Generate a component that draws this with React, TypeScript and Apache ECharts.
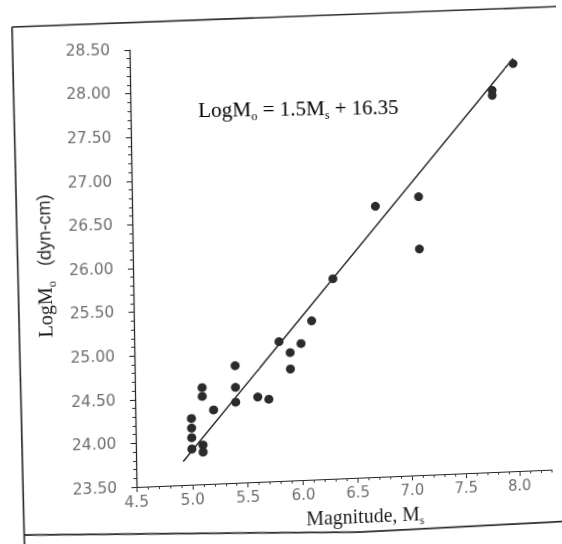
import { useEffect, useRef } from "react";
import * as echarts from "echarts";

// ---- Data (surface-wave magnitude Ms vs log seismic moment) ----
const magnitudes = [
  5.0, 5.0, 5.0, 5.0, 5.1, 5.1, 5.1, 5.1, 5.2, 5.4, 5.4, 5.4, 5.6, 5.7, 5.8,
  5.9, 5.9, 6.0, 6.1, 6.3, 6.7, 7.1, 7.1, 7.8, 7.8, 8.0,
];
const logMoments = [
  24.26, 24.15, 24.04, 23.91, 24.61, 24.51, 23.95, 23.87, 24.35, 24.85, 24.6,
  24.43, 24.48, 24.45, 25.11, 24.98, 24.79, 25.08, 25.34, 25.82, 26.65, 26.75,
  26.14, 27.98, 27.92, 28.29,
];
// Regression line LogMo = 1.5 Ms + 16.35, end points as drawn
const fitM = [4.92, 8.0];
const fitLogM = [23.77, 28.35];

// ---- Axes ----
const xMin = 4.5;
const xMax = 8.3;
const xMajorStep = 0.5;
const xMinorStep = 0.1;
const yMin = 23.5;
const yMax = 28.5;
const yStep = 0.5;

const xTitle = "{a|Magnitude, M}{s|s}";
const yTitle = "{a|LogM}{s|o}{b|   (dyn-cm)}";
const equation = "{a|LogM}{s|o}{a| = 1.5M}{s|s}{a| + 16.35}";

// ---- Layout of the plot (chart pixels, before the scan warp) ----
const GL = 133;
const GT = 48;
const PX_PER_X = 109.7;
const PX_PER_Y = 87.2;
const GW = (xMax - xMin) * PX_PER_X;
const GH = (yMax - yMin) * PX_PER_Y;

// The reference is a slightly warped scan: map plot corners to where they sit on the page.
const warpSrc = [
  [GL, GT],
  [GL, GT + GH],
  [GL + 3.5 * PX_PER_X, GT + GH],
  [GL + 3.5 * PX_PER_X, GT + 0.15 * PX_PER_Y],
];
const warpDst = [
  [129.5, 50],
  [136.5, 487],
  [519.5, 471],
  [513, 58.5],
];

function solveHomography(src: number[][], dst: number[][]) {
  const A: number[][] = [];
  const b: number[] = [];
  for (let i = 0; i < 4; i++) {
    const [x, y] = src[i];
    const [X, Y] = dst[i];
    A.push([x, y, 1, 0, 0, 0, -x * X, -y * X]);
    b.push(X);
    A.push([0, 0, 0, x, y, 1, -x * Y, -y * Y]);
    b.push(Y);
  }
  const n = 8;
  for (let c = 0; c < n; c++) {
    let p = c;
    for (let r = c + 1; r < n; r++) if (Math.abs(A[r][c]) > Math.abs(A[p][c])) p = r;
    const tA = A[c]; A[c] = A[p]; A[p] = tA;
    const tb = b[c]; b[c] = b[p]; b[p] = tb;
    for (let r = c + 1; r < n; r++) {
      const f = A[r][c] / A[c][c];
      for (let k = c; k < n; k++) A[r][k] -= f * A[c][k];
      b[r] -= f * b[c];
    }
  }
  const h = new Array(n).fill(0);
  for (let r = n - 1; r >= 0; r--) {
    let s = b[r];
    for (let k = r + 1; k < n; k++) s -= A[r][k] * h[k];
    h[r] = s / A[r][r];
  }
  return [
    [h[0], h[1], h[2]],
    [h[3], h[4], h[5]],
    [h[6], h[7], 1],
  ];
}

function invert3(m: number[][]) {
  const [a, b, c] = m[0];
  const [d, e, f] = m[1];
  const [g, h, i] = m[2];
  const A = e * i - f * h;
  const B = -(d * i - f * g);
  const C = d * h - e * g;
  const det = a * A + b * B + c * C;
  return [
    [A / det, -(b * i - c * h) / det, (b * f - c * e) / det],
    [B / det, (a * i - c * g) / det, -(a * f - c * d) / det],
    [C / det, -(a * h - b * g) / det, (a * e - b * d) / det],
  ];
}

function apply(m: number[][], x: number, y: number) {
  const w = m[2][0] * x + m[2][1] * y + m[2][2];
  return [
    (m[0][0] * x + m[0][1] * y + m[0][2]) / w,
    (m[1][0] * x + m[1][1] * y + m[1][2]) / w,
  ];
}

const H = solveHomography(warpSrc, warpDst);
const Hinv = invert3(H);
const cssWarp = `matrix3d(${H[0][0]}, ${H[1][0]}, 0, ${H[2][0]}, ${H[0][1]}, ${H[1][1]}, 0, ${H[2][1]}, 0, 0, 1, 0, ${H[0][2]}, ${H[1][2]}, 0, 1)`;
const toChart = (x: number, y: number) => apply(Hinv, x, y);

const serif = "'Liberation Serif', 'Times New Roman', serif";
const sans = "'DejaVu Sans', sans-serif";
const ink = "#1e1e1e";

const richSerif = {
  a: { fontFamily: serif, fontSize: 21, color: ink, lineHeight: 26, verticalAlign: "middle" },
  s: { fontFamily: serif, fontSize: 12, color: ink, lineHeight: 12, verticalAlign: "bottom" },
  b: { fontFamily: "'Liberation Sans', Arial, sans-serif", fontSize: 18, color: "#2a2a2a", lineHeight: 26, verticalAlign: "middle" },
};
const richTitle = {
  ...richSerif,
  a: { ...richSerif.a, fontSize: 20 },
};

export default function App() {
  const ref = useRef<HTMLDivElement>(null);

  useEffect(() => {
    if (!ref.current) return;
    const chart = echarts.init(ref.current, undefined, { renderer: "svg" });
    const points = magnitudes.map((m, i) => [m, logMoments[i]]);
    const line = fitM.map((m, i) => [m, fitLogM[i]]);

    // axis title placement (page positions of the titles in the scan)
    const xName = toChart(365.5, 516);
    const xCenter = GL + GW / 2;
    const xShift = 2 * (xName[0] - xCenter);
    const xGap = xName[1] - 13 - (GT + GH);
    const yName = toChart(47, 266);
    const yCenter = GT + GH / 2;
    const yShift = 2 * (yCenter - yName[1]);
    const yGap = GL - yName[0] - 13;
    const eq = toChart(299, 109);

    const frameTop = [toChart(12, 27), toChart(600, 5)];
    const frameLeft = [toChart(12, 27), toChart(24.5, 548)];
    const frameBottom = [toChart(24, 535), toChart(360, 532), toChart(553, 522), toChart(600, 519)];

    const option: any = {
      animation: false,
      backgroundColor: "#ffffff",
      grid: {
        left: GL,
        top: GT,
        width: GW,
        height: GH,
        containLabel: false,
        outerBoundsMode: "none",
      },
      xAxis: [
        {
          type: "value",
          position: "bottom",
          min: xMin,
          max: xMax,
          interval: xMajorStep,
          axisLine: { show: true, onZero: false, lineStyle: { color: "#222", width: 1.2 } },
          axisTick: { show: true, inside: false, length: 5, lineStyle: { color: "#222", width: 1 } },
          axisLabel: {
            margin: 8,
            color: "#6e6e6e",
            fontFamily: sans,
            fontSize: 15,
            showMaxLabel: false,
            formatter: (v: number) => v.toFixed(1),
          },
          splitLine: { show: false },
          name: xTitle,
          nameLocation: "middle",
          nameGap: xGap,
          nameTextStyle: {
            padding: [0, Math.max(0, -xShift), 0, Math.max(0, xShift)],
            rich: richTitle,
          },
        },
        {
          type: "value",
          position: "bottom",
          min: xMin,
          max: xMax,
          interval: xMinorStep,
          axisLine: { show: false, onZero: false },
          axisTick: { show: true, inside: false, length: 3, lineStyle: { color: "#333", width: 1 } },
          axisLabel: { show: false },
          splitLine: { show: false },
        },
      ],
      yAxis: {
        type: "value",
        min: yMin,
        max: yMax,
        interval: yStep,
        axisLine: { show: true, onZero: false, lineStyle: { color: "#222", width: 1.2 } },
        axisTick: { show: true, inside: false, length: 5, lineStyle: { color: "#222", width: 1 } },
        minorTick: { show: true, splitNumber: 5, length: 3, lineStyle: { color: "#333", width: 1 } },
        axisLabel: {
          margin: 19,
          color: "#6e6e6e",
          fontFamily: sans,
          fontSize: 15,
          formatter: (v: number) => v.toFixed(2),
        },
        splitLine: { show: false },
        minorSplitLine: { show: false },
        name: yTitle,
        nameLocation: "middle",
        nameGap: yGap,
        nameRotate: 90,
        nameTextStyle: {
          padding: [0, Math.max(0, -yShift), 0, Math.max(0, yShift)],
          rich: richTitle,
        },
      },
      series: [
        {
          type: "line",
          xAxisIndex: 0,
          data: line,
          showSymbol: false,
          symbol: "none",
          lineStyle: { color: ink, width: 1.4 },
          silent: true,
          z: 2,
        },
        {
          type: "scatter",
          xAxisIndex: 0,
          data: points,
          symbol: "circle",
          symbolSize: 9,
          itemStyle: { color: "#2b2b2b", opacity: 1 },
          z: 3,
        },
      ],
      graphic: [
        {
          type: "polyline",
          silent: true,
          z: -10,
          shape: { points: frameTop },
          style: { fill: "none", stroke: "#2a2a2a", lineWidth: 1.6 },
        },
        {
          type: "polyline",
          silent: true,
          z: -10,
          shape: { points: frameLeft },
          style: { fill: "none", stroke: "#2a2a2a", lineWidth: 1.6 },
        },
        {
          type: "polyline",
          silent: true,
          z: -10,
          shape: { points: frameBottom },
          style: { fill: "none", stroke: "#2a2a2a", lineWidth: 1.8 },
        },
        {
          type: "text",
          x: eq[0],
          y: eq[1],
          silent: true,
          style: {
            text: equation,
            rich: richSerif,
            align: "center",
            verticalAlign: "middle",
            textAlign: "center",
            textVerticalAlign: "middle",
          },
        },
      ],
    };

    chart.setOption(option);
    return () => chart.dispose();
  }, []);

  return (
    <div
      style={{
        position: "absolute",
        left: 0,
        top: 0,
        width: 562,
        height: 544,
        overflow: "hidden",
        background: "#ffffff",
      }}
    >
      <div
        ref={ref}
        style={{
          position: "absolute",
          left: 0,
          top: 0,
          width: 562,
          height: 544,
          transformOrigin: "0 0",
          transform: cssWarp,
        }}
      />
    </div>
  );
}
